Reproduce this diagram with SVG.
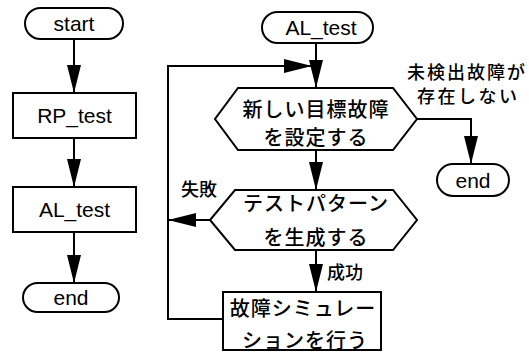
<svg xmlns="http://www.w3.org/2000/svg" width="529" height="353" viewBox="0 0 529 353">
<style>
.s{fill:#fff;stroke:#000;stroke-width:2}
.l{fill:none;stroke:#000;stroke-width:2}
.t{font-family:"Liberation Sans",Arial,sans-serif;font-size:21px;text-anchor:middle;fill:#000}
.j{font-family:"Noto Sans CJK JP","Noto Sans CJK SC",sans-serif;font-size:20px;font-weight:500;text-anchor:middle;fill:#000}
.k{font-family:"Noto Sans CJK JP","Noto Sans CJK SC",sans-serif;font-size:18px;font-weight:500;fill:#000}
</style>
<defs>
<marker id="a" markerUnits="userSpaceOnUse" markerWidth="28" markerHeight="14" refX="28" refY="7" orient="auto">
<path d="M0,0 L28,7 L0,14 z" fill="#000"/>
</marker>
</defs>
<g id="connectors">
<line class="l" x1="74" y1="39" x2="74" y2="93" marker-end="url(#a)"/>
<line class="l" x1="74" y1="138" x2="74" y2="187" marker-end="url(#a)"/>
<line class="l" x1="74" y1="232" x2="74" y2="283" marker-end="url(#a)"/>
<line class="l" x1="316" y1="43" x2="316" y2="88" marker-end="url(#a)"/>
<polyline class="l" points="223,319 168,319 168,66 312,66" marker-end="url(#a)"/>
<polyline class="l" points="417,119 471,119 471,164" marker-end="url(#a)"/>
<line class="l" x1="316" y1="150" x2="316" y2="190" marker-end="url(#a)"/>
<line class="l" x1="210" y1="220" x2="168" y2="220" marker-end="url(#a)"/>
<line class="l" x1="316" y1="250" x2="316" y2="292" marker-end="url(#a)"/>
<text class="k" x="407" y="79" font-size="16" letter-spacing="2">未検出故障が</text>
<text class="k" x="417" y="103" font-size="16" letter-spacing="2.5">存在しない</text>
<text class="k" x="181" y="196" font-size="17">失敗</text>
<text class="k" x="327" y="279">成功</text>
</g>
<g id="start">
<rect class="s" x="25" y="8" width="98" height="31" rx="15.5"/>
<text class="t" x="74" y="31">start</text>
</g>
<g id="rp_test">
<rect class="s" x="13" y="93" width="123" height="45"/>
<text class="t" x="74.5" y="123">RP_test</text>
</g>
<g id="al_test">
<rect class="s" x="13" y="187" width="123" height="45"/>
<text class="t" x="74.5" y="217">AL_test</text>
</g>
<g id="end1">
<rect class="s" x="23" y="283" width="96" height="29" rx="14.5"/>
<text class="t" x="71" y="305">end</text>
</g>
<g id="al_test_start">
<rect class="s" x="262" y="12" width="111" height="31" rx="15.5"/>
<text class="t" x="321" y="35">AL_test</text>
</g>
<g id="set_target">
<polygon class="s" points="238,88 393,88 417,119 393,150 238,150 215,119"/>
<text class="j" x="316" y="117" letter-spacing="1">新しい目標故障</text>
<text class="j" x="316" y="145" letter-spacing="1">を設定する</text>
</g>
<g id="end2">
<rect class="s" x="437" y="164" width="72" height="32" rx="16"/>
<text class="t" x="473" y="188">end</text>
</g>
<g id="gen_pattern">
<polygon class="s" points="235,190 393,190 417,220 393,250 235,250 210,220"/>
<text class="j" x="316" y="211" letter-spacing="1">テストパターン</text>
<text class="j" x="316" y="245" letter-spacing="1">を生成する</text>
</g>
<g id="fault_sim">
<rect class="s" x="223" y="292" width="158" height="58"/>
<text class="j" x="303" y="316" letter-spacing="1">故障シミュレー</text>
<text class="j" x="305" y="348" letter-spacing="1">ションを行う</text>
</g>
</svg>
